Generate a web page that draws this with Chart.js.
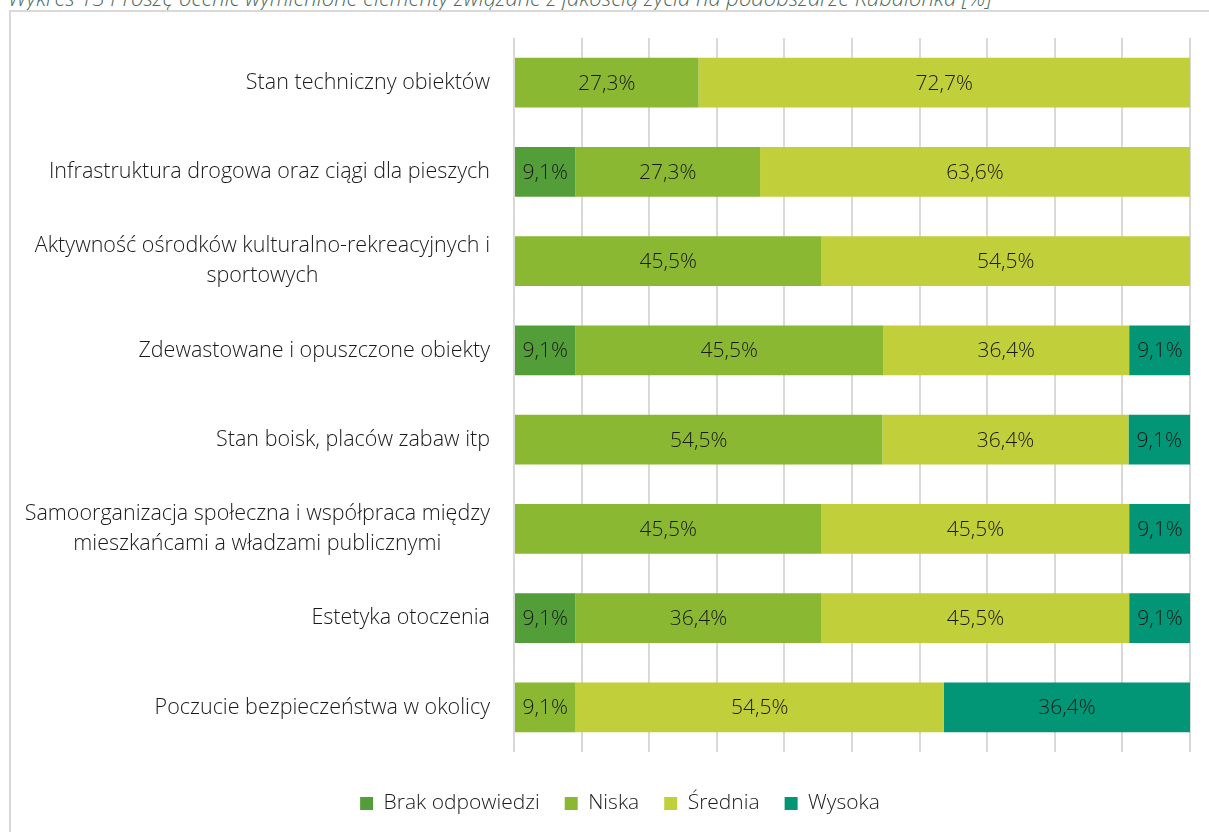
<!DOCTYPE html>
<html lang="pl">
<head>
<meta charset="utf-8">
<title>Wykres 13</title>
<script src="https://cdn.jsdelivr.net/npm/chart.js@4"></script>
<style>
  html, body { margin: 0; padding: 0; background: #fff; overflow: hidden; }
  body { width: 1209px; height: 832px; position: relative; }
  #caption {
    position: absolute; left: 8px; top: -16px; white-space: nowrap;
    font: italic 300 22px "Open Sans", sans-serif; color: #4d6b5e; line-height: 26px;
  }
  #frame {
    position: absolute; left: 9px; top: 10px; width: 1300px; height: 900px;
    border: 2px solid #d9d9d9; box-sizing: border-box;
  }
  #chart { position: absolute; left: 0; top: 0; }
</style>
</head>
<body>
<div id="caption">Wykres 13 Proszę ocenić wymienione elementy związane z jakością życia na podobszarze Kubalonka [%]</div>
<div id="frame"></div>
<canvas id="chart" width="1209" height="832"></canvas>
<script>
// categories (multi-line ones split as in the report)
const categories = [
  ['Stan techniczny obiektów'],
  ['Infrastruktura drogowa oraz ciągi dla pieszych'],
  ['Aktywność ośrodków kulturalno-rekreacyjnych i', 'sportowych'],
  ['Zdewastowane i opuszczone obiekty'],
  ['Stan boisk, placów zabaw itp'],
  ['Samoorganizacja społeczna i współpraca między', 'mieszkańcami a władzami publicznymi'],
  ['Estetyka otoczenia'],
  ['Poczucie bezpieczeństwa w okolicy']
];

const seriesNames = ['Brak odpowiedzi', 'Niska', 'Średnia', 'Wysoka'];
const seriesColors = ['#549e39', '#8ab833', '#c0cf3a', '#029676'];

// percentages, null = no answers in that class
const brakOdpowiedzi = [null, 9.1, null, 9.1, null, null, 9.1, null];
const niska          = [27.3, 27.3, 45.5, 45.5, 54.5, 45.5, 36.4, 9.1];
const srednia        = [72.7, 63.6, 54.5, 36.4, 36.4, 45.5, 45.5, 54.5];
const wysoka         = [null, null, null, 9.1, 9.1, 9.1, 9.1, 36.4];

const xTicks = [0, 10, 20, 30, 40, 50, 60, 70, 80, 90, 100];

const FONT = '"Open Sans", sans-serif';
const TEXT = '#1a1a1a';

const fmt = v => v.toFixed(1).replace('.', ',') + '%';

// value labels in the middle of each segment
const segmentLabels = {
  id: 'segmentLabels',
  afterDatasetsDraw(chart) {
    const ctx = chart.ctx;
    ctx.save();
    ctx.font = '300 21px ' + FONT;
    ctx.fillStyle = TEXT;
    ctx.textAlign = 'center';
    ctx.textBaseline = 'middle';
    chart.data.datasets.forEach((ds, di) => {
      const meta = chart.getDatasetMeta(di);
      meta.data.forEach((bar, i) => {
        const v = ds.data[i];
        if (v == null) return;
        ctx.fillText(fmt(v), (bar.x + bar.base) / 2, bar.y + 1);
      });
    });
    ctx.restore();
  }
};

// category labels: block right-aligned to the axis, lines centred inside it
const categoryLabels = {
  id: 'categoryLabels',
  afterDraw(chart) {
    const ctx = chart.ctx;
    const y = chart.scales.y;
    const right = chart.chartArea.left - 24;
    const lh = 30;
    ctx.save();
    ctx.font = '300 21.5px ' + FONT;
    ctx.fillStyle = TEXT;
    ctx.textAlign = 'center';
    ctx.textBaseline = 'middle';
    categories.forEach((lines, i) => {
      const cy = y.getPixelForValue(i);
      const w = Math.max(...lines.map(l => ctx.measureText(l).width));
      const cx = right - w / 2;
      const top = cy - (lines.length - 1) * lh / 2;
      lines.forEach((l, k) => ctx.fillText(l, cx, top + k * lh));
    });
    ctx.restore();
  }
};

// legend sits a little right of the canvas centre
const legendShift = {
  id: 'legendShift',
  afterLayout(chart) {
    const lg = chart.legend;
    if (!lg) return;
    lg.left += 25;
    lg.right += 25;
    lg.legendHitBoxes.forEach(b => { b.left += 25; });
  }
};

const datasets = [brakOdpowiedzi, niska, srednia, wysoka].map((data, i) => ({
  label: seriesNames[i],
  data,
  backgroundColor: seriesColors[i],
  borderWidth: 0,
  categoryPercentage: 1,
  barPercentage: 0.56
}));

new Chart(document.getElementById('chart'), {
  type: 'bar',
  data: { labels: categories.map(c => c.join(' ')), datasets },
  options: {
    indexAxis: 'y',
    responsive: false,
    animation: false,
    devicePixelRatio: 1,
    layout: { padding: { left: 0, right: 19, top: 38, bottom: 8 } },
    scales: {
      x: {
        stacked: true,
        min: 0,
        max: 100,
        afterBuildTicks(scale) { scale.ticks = xTicks.map(v => ({ value: v })); },
        afterFit(scale) { scale.height = 16; },
        ticks: { display: false },
        grid: { color: '#d9d9d9', lineWidth: 2, drawTicks: false },
        border: { display: false }
      },
      y: {
        stacked: true,
        afterFit(scale) { scale.width = 514; },
        ticks: { display: false },
        grid: { display: false },
        border: { display: false }
      }
    },
    plugins: {
      legend: {
        position: 'bottom',
        labels: {
          boxWidth: 13,
          boxHeight: 13,
          padding: 25,
          color: TEXT,
          font: { family: FONT, size: 21, weight: '300' }
        }
      },
      tooltip: { enabled: false }
    }
  },
  plugins: [segmentLabels, categoryLabels, legendShift]
});
</script>
</body>
</html>
